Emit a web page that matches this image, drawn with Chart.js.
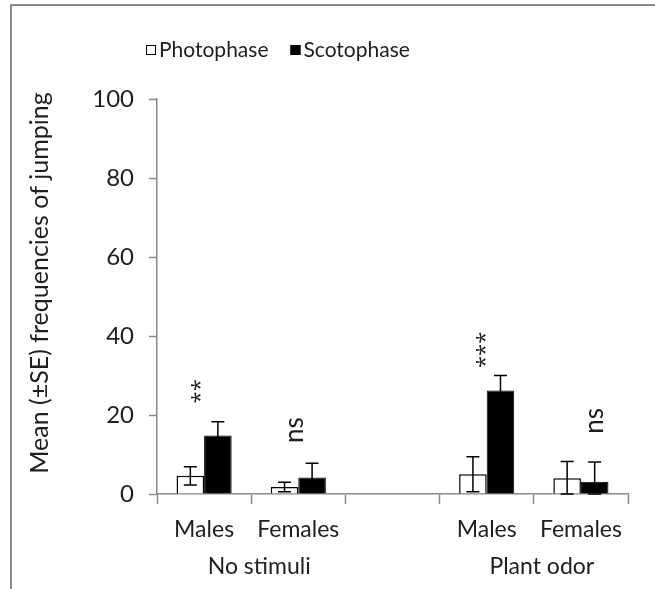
<!DOCTYPE html>
<html>
<head>
<meta charset="utf-8">
<script src="https://cdn.jsdelivr.net/npm/chart.js@4.4.1/dist/chart.umd.min.js"></script>
<style>
  html, body { margin: 0; padding: 0; background: #fff; }
  #wrap { position: relative; width: 655px; height: 589px; }
  #frame { position: absolute; left: 10px; top: 4px; right: 0; bottom: 0;
           border-top: 2px solid #8a8a8a; border-left: 2px solid #8a8a8a; pointer-events: none; }
  canvas { position: absolute; left: 0; top: 0; }
</style>
</head>
<body>
<div id="wrap">
  <canvas id="jumpChart" width="655" height="589"></canvas>
  <div id="frame"></div>
</div>
<script>
const FONT = 'Lato, "Open Sans", sans-serif';
const TEXT = '#1e1e1e';

// categories along the x axis (the empty slot separates the two treatments)
const categories = ['Males', 'Females', '', 'Males', 'Females'];
const groups = ['No stimuli', 'Plant odor'];
const groupSpans = [[0, 1], [3, 4]];

// mean jumping frequencies and their standard errors
const photophase = [4.6, 1.8, null, 5.0, 4.0];
const photophaseSE = [2.3, 1.2, null, 4.4, 4.2];
const scotophase = [14.8, 4.2, null, 26.2, 3.1];
const scotophaseSE = [3.5, 3.6, null, 3.8, 5.0];

const yTicks = [0, 20, 40, 60, 80, 100];

// significance marks and the level they sit at
const marks = ['**', 'ns', '', '***', 'ns'];
const markLevels = [26, 16.2, null, 36.5, 18.5];

const errorBars = {
  id: 'errorBars',
  afterDatasetsDraw(chart) {
    const { ctx, scales: { y } } = chart;
    const errs = [photophaseSE, scotophaseSE];
    ctx.save();
    ctx.strokeStyle = '#000';
    ctx.lineWidth = 1.5;
    chart.data.datasets.forEach((ds, di) => {
      chart.getDatasetMeta(di).data.forEach((bar, i) => {
        const v = ds.data[i];
        if (v == null) return;
        const se = errs[di][i];
        const top = y.getPixelForValue(v + se);
        const bot = y.getPixelForValue(Math.max(0, v - se));
        const cap = 6.5;
        ctx.beginPath();
        ctx.moveTo(bar.x, top); ctx.lineTo(bar.x, bot);
        ctx.moveTo(bar.x - cap, top); ctx.lineTo(bar.x + cap, top);
        ctx.moveTo(bar.x - cap, bot); ctx.lineTo(bar.x + cap, bot);
        ctx.stroke();
      });
    });
    ctx.restore();
  }
};

const sigMarks = {
  id: 'sigMarks',
  afterDraw(chart, args, opts) {
    const { ctx, scales: { x, y } } = chart;
    ctx.save();
    ctx.fillStyle = TEXT;
    ctx.textAlign = 'center';
    ctx.textBaseline = 'middle';
    marks.forEach((m, i) => {
      if (!m) return;
      const px = x.getPixelForValue(i) + opts.nudge[i];
      const py = y.getPixelForValue(markLevels[i]);
      ctx.save();
      ctx.translate(px, py);
      ctx.rotate(-Math.PI / 2);
      ctx.font = m === 'ns' ? '26px ' + FONT : '22px "Open Sans", sans-serif';
      ctx.fillText(m, 0, 0);
      ctx.restore();
    });
    ctx.restore();
  }
};

const groupLabels = {
  id: 'groupLabels',
  afterDraw(chart, args, opts) {
    const { ctx, scales: { x } } = chart;
    ctx.save();
    ctx.fillStyle = TEXT;
    ctx.font = '23px ' + FONT;
    ctx.textAlign = 'center';
    ctx.textBaseline = 'middle';
    groups.forEach((g, k) => {
      const [a, b] = groupSpans[k];
      const cx = (x.getPixelForValue(a) + x.getPixelForValue(b)) / 2 + opts.shift;
      ctx.fillText(g, cx, opts.y);
    });
    ctx.restore();
  }
};

const boxLegend = {
  id: 'boxLegend',
  afterDraw(chart, args, opts) {
    const { ctx } = chart;
    ctx.save();
    ctx.font = '21px ' + FONT;
    ctx.textBaseline = 'middle';
    let x0 = opts.x;
    chart.data.datasets.forEach(ds => {
      ctx.fillStyle = ds.backgroundColor;
      ctx.fillRect(x0, opts.y - 5, 10, 10);
      ctx.strokeStyle = '#000';
      ctx.lineWidth = 1;
      ctx.strokeRect(x0 + 0.5, opts.y - 4.5, 9, 9);
      ctx.fillStyle = TEXT;
      ctx.fillText(ds.label, x0 + 13, opts.y);
      x0 += 13 + ctx.measureText(ds.label).width + 22;
    });
    ctx.restore();
  }
};

// vertical axis title, centred on the plotted range
const yTitle = {
  id: 'yTitle',
  afterDraw(chart, args, opts) {
    const { ctx } = chart;
    ctx.save();
    ctx.translate(opts.x, opts.y);
    ctx.rotate(-Math.PI / 2);
    ctx.font = '25px ' + FONT;
    ctx.fillStyle = TEXT;
    ctx.textAlign = 'center';
    ctx.textBaseline = 'middle';
    ctx.fillText(opts.text, 0, 0);
    ctx.restore();
  }
};

new Chart(document.getElementById('jumpChart'), {
  type: 'bar',
  data: {
    labels: categories,
    datasets: [
      { label: 'Photophase', data: photophase, backgroundColor: '#fff',
        borderColor: '#000', borderWidth: 1.5 },
      { label: 'Scotophase', data: scotophase, backgroundColor: '#000',
        borderColor: '#000', borderWidth: 1 }
    ]
  },
  options: {
    responsive: false,
    animation: false,
    devicePixelRatio: 1,
    categoryPercentage: 0.585,
    barPercentage: 1,
    layout: { padding: { top: 99, right: 27, left: 0, bottom: 0 } },
    plugins: {
      legend: { display: false },
      tooltip: { enabled: false },
      sigMarks: { nudge: [-3, -4, 0, -1, 14] },
      groupLabels: { y: 567, shift: 8 },
      boxLegend: { x: 146, y: 50 },
      yTitle: { text: 'Mean (±SE) frequencies of jumping', x: 40, y: 283 }
    },
    scales: {
      x: {
        afterFit(s) { s.height = 95; },
        grid: { offset: true, drawOnChartArea: false, tickLength: 10, color: '#8a8a8a', tickWidth: 1.5 },
        border: { color: '#8a8a8a', width: 1.5 },
        ticks: { color: TEXT, font: { family: FONT, size: 23 }, padding: 12, maxRotation: 0 }
      },
      y: {
        min: 0, max: 100,
        afterFit(s) { s.width = 157; },
        afterBuildTicks(s) { s.ticks = yTicks.map(v => ({ value: v })); },
        grid: { drawOnChartArea: false, tickLength: 8, color: '#8a8a8a', tickWidth: 1.5 },
        border: { color: '#8a8a8a', width: 1.5 },
        ticks: { color: TEXT, font: { family: FONT, size: 24 }, padding: 15 }
      }
    }
  },
  plugins: [errorBars, sigMarks, groupLabels, boxLegend, yTitle]
});
</script>
</body>
</html>
